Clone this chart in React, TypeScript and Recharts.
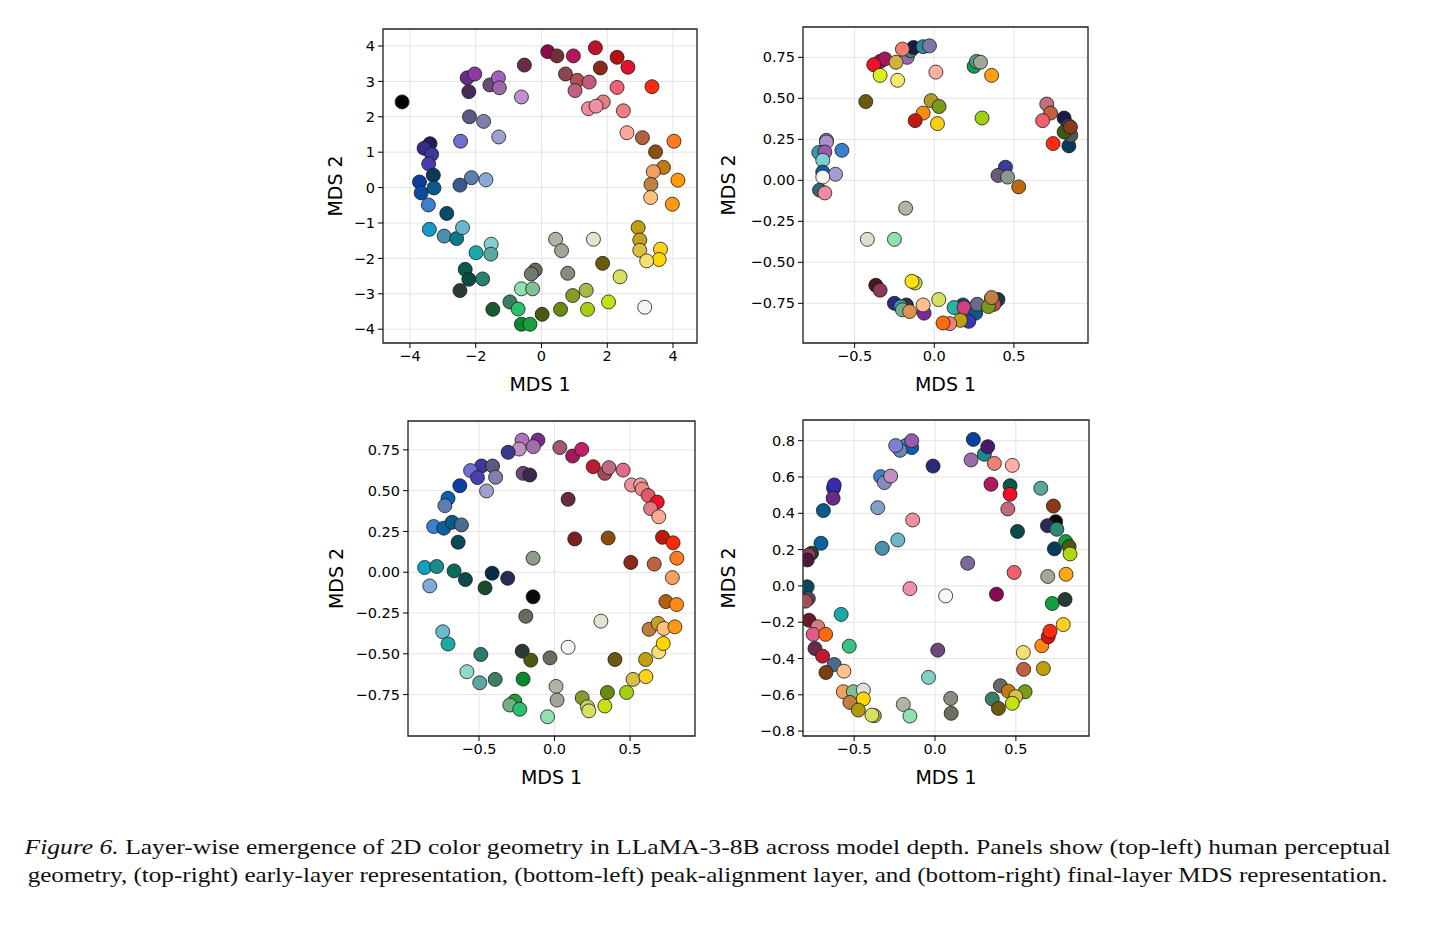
import { CartesianGrid, ReferenceArea, Scatter, ScatterChart, XAxis, YAxis } from "recharts";

type Pt = [number, number, string];

// top-left: human perceptual geometry
const humanPts: Pt[] = [
  [-4.24, 2.42, "#000000"], [0.19, 3.84, "#8b0a50"], [0.47, 3.72, "#722f37"], [0.97, 3.72, "#b5135d"],
  [1.64, 3.95, "#c0102a"], [2.3, 3.68, "#b81010"], [2.63, 3.4, "#e0102f"], [1.79, 3.38, "#8b2a1a"],
  [0.73, 3.21, "#8e4453"], [1.09, 3.03, "#b05050"], [1.45, 2.98, "#c45a7a"], [1.02, 2.74, "#c06080"],
  [2.3, 2.83, "#f06070"], [3.36, 2.85, "#ff2a10"], [1.88, 2.42, "#e08080"], [1.43, 2.23, "#f08aa0"],
  [1.66, 2.3, "#f090a0"], [2.49, 2.17, "#f08080"], [2.6, 1.55, "#ffa898"], [3.07, 1.41, "#b06040"],
  [4.03, 1.31, "#ff7a20"], [3.47, 1.01, "#8b5010"], [3.71, 0.57, "#c07a10"], [3.4, 0.45, "#f0a060"],
  [4.15, 0.21, "#ff9a00"], [3.33, 0.09, "#c08040"], [-0.52, 3.46, "#6a2a4a"], [-0.61, 2.56, "#c090c8"],
  [-2.26, 3.1, "#6a2a8a"], [-2.03, 3.21, "#8a3aa0"], [-2.21, 2.71, "#4a2a5a"], [-1.57, 2.9, "#6a4a7a"],
  [-1.31, 3.1, "#a060c0"], [-1.28, 2.82, "#9a6aa8"], [-2.19, 2.0, "#5a5a8a"], [-1.76, 1.87, "#8080aa"],
  [-2.46, 1.31, "#7070d0"], [-1.3, 1.43, "#a0a0d0"], [-3.39, 1.24, "#2a1a5a"], [-3.57, 1.11, "#3a2a8a"],
  [-3.34, 0.94, "#3a3a9a"], [-3.43, 0.67, "#4a3ab0"], [-3.29, 0.35, "#0a3a5a"], [-3.71, 0.16, "#0a40a0"],
  [-2.48, 0.07, "#3a5a8a"], [-2.13, 0.28, "#5a80b0"], [-1.69, 0.22, "#8aaad8"], [-3.66, -0.15, "#0a4aa0"],
  [-3.27, -0.01, "#0a5a8a"], [-3.44, -0.49, "#3a80d0"], [-2.88, -0.73, "#0a4a6a"], [-3.41, -1.18, "#1a9ac8"],
  [-2.96, -1.37, "#4a90aa"], [-2.58, -1.44, "#0a7a8a"], [-2.4, -1.13, "#6ab8d0"], [-1.99, -1.84, "#1aa8a8"],
  [-1.53, -1.6, "#80d0d0"], [-1.54, -1.88, "#5aa8a0"], [-2.32, -2.31, "#0a5a50"], [-2.21, -2.59, "#0a4a40"],
  [-1.79, -2.58, "#2a8070"], [-2.48, -2.91, "#2a3a30"], [-1.48, -3.44, "#1a5a30"], [-0.96, -3.23, "#3a8060"],
  [-0.71, -3.43, "#2ac070"], [-0.61, -2.86, "#90e0b0"], [-0.27, -2.86, "#80c090"], [-0.61, -3.86, "#0a8a30"],
  [-0.35, -3.86, "#1aa040"], [0.02, -3.58, "#4a5a10"], [-0.19, -2.33, "#6a6a60"], [-0.31, -2.44, "#707a70"],
  [0.58, -3.44, "#6a8a10"], [0.95, -3.05, "#8a9a2a"], [1.36, -2.9, "#a8b84a"], [1.4, -3.44, "#a8d010"],
  [2.04, -3.23, "#c8e010"], [2.39, -2.52, "#d8e060"], [1.86, -2.14, "#6a5a10"], [0.8, -2.42, "#8a8a80"],
  [0.43, -1.46, "#b0b4a8"], [0.61, -1.78, "#a0a49a"], [1.58, -1.46, "#e0e4d0"], [3.14, -3.38, "#f4f4f0"],
  [2.94, -1.13, "#c0a010"], [2.99, -1.48, "#c8a020"], [2.99, -1.77, "#d8c040"], [3.62, -1.74, "#ffd020"],
  [3.58, -2.03, "#ffd800"], [3.2, -2.07, "#f8e070"], [3.32, -0.28, "#ffc080"], [3.98, -0.47, "#ff9a10"],
];

// top-right: early layer
const earlyPts: Pt[] = [
  [-0.34, 0.725, "#c0105a"], [-0.31, 0.74, "#a01a5a"], [-0.38, 0.705, "#f0102a"], [-0.34, 0.64, "#d8f020"],
  [-0.17, 0.75, "#9a6aaa"], [-0.15, 0.79, "#3a8a6a"], [-0.13, 0.81, "#1a1a4a"], [-0.2, 0.8, "#f08070"],
  [-0.24, 0.72, "#d0b040"], [-0.23, 0.61, "#f8e870"], [-0.07, 0.815, "#2a8a9a"], [-0.03, 0.82, "#7a7aaa"],
  [0.01, 0.66, "#ffb0a0"], [-0.43, 0.48, "#6a5a10"], [-0.02, 0.486, "#b09a20"], [0.03, 0.45, "#7a9a1a"],
  [-0.07, 0.41, "#ff8a10"], [-0.12, 0.364, "#c01a10"], [0.02, 0.346, "#f8d010"], [0.25, 0.695, "#10a050"],
  [0.265, 0.725, "#4aa080"], [0.29, 0.72, "#a0a898"], [0.36, 0.64, "#ffa010"], [0.3, 0.38, "#a0d010"],
  [0.706, 0.465, "#c07080"], [0.73, 0.41, "#c06040"], [0.68, 0.364, "#f06070"], [0.815, 0.38, "#1a1a4a"],
  [0.84, 0.335, "#1a4a5a"], [0.845, 0.21, "#0a3a5a"], [0.857, 0.274, "#4a5a5a"], [0.815, 0.295, "#3a5a10"],
  [0.855, 0.325, "#8a3a1a"], [0.746, 0.224, "#ff2a10"], [-0.677, 0.244, "#7a8aaa"], [-0.677, 0.234, "#b090c8"],
  [-0.725, 0.17, "#3a9aaa"], [-0.687, 0.173, "#9a5ab0"], [-0.7, 0.122, "#80d0d0"], [-0.58, 0.183, "#3a80d0"],
  [-0.7, 0.05, "#0a60a0"], [-0.62, 0.037, "#a0a0d0"], [-0.7, 0.02, "#f4f4f0"], [0.447, 0.08, "#3a3a9a"],
  [0.4, 0.03, "#6a5a7a"], [0.46, 0.02, "#8a9a8a"], [0.53, -0.04, "#c06a10"], [-0.72, -0.06, "#2a6a7a"],
  [-0.687, -0.077, "#f08aa0"], [-0.18, -0.17, "#b0b4a8"], [-0.42, -0.36, "#e0e0d0"], [-0.25, -0.36, "#90e0b0"],
  [-0.367, -0.64, "#4a1a1a"], [-0.34, -0.67, "#8a3a5a"], [-0.12, -0.626, "#c0d840"], [-0.14, -0.616, "#ffe010"],
  [-0.25, -0.75, "#2a2a8a"], [-0.175, -0.76, "#3a2a4a"], [-0.21, -0.77, "#2aa0a0"], [-0.2, -0.79, "#70b090"],
  [-0.155, -0.8, "#e09050"], [-0.064, -0.81, "#7a2a9a"], [-0.07, -0.76, "#ffc090"], [0.028, -0.727, "#d8e060"],
  [0.18, -0.76, "#1a4a6a"], [0.124, -0.776, "#2ab0a0"], [0.187, -0.776, "#d04080"], [0.26, -0.81, "#0a5a8a"],
  [0.217, -0.86, "#3a3ab0"], [0.164, -0.854, "#c0a010"], [0.097, -0.874, "#f08080"], [0.055, -0.87, "#ff6a10"],
  [0.27, -0.756, "#6a6a8a"], [0.36, -0.72, "#4a2a4a"], [0.4, -0.727, "#1a3a4a"], [0.375, -0.756, "#c04a4a"],
  [0.34, -0.77, "#7a9a1a"], [0.36, -0.715, "#c08040"],
];

// bottom-left: peak-alignment layer
const peakPts: Pt[] = [
  [-0.215, 0.81, "#b070c0"], [-0.11, 0.81, "#7a2a8a"], [-0.14, 0.77, "#a070a8"], [-0.234, 0.755, "#c090c0"],
  [-0.307, 0.735, "#3a3a8a"], [0.035, 0.764, "#a05a70"], [0.12, 0.712, "#a01a5a"], [0.18, 0.753, "#c0206a"],
  [0.256, 0.647, "#c01a30"], [0.333, 0.606, "#a04a5a"], [0.36, 0.641, "#c06a80"], [0.454, 0.626, "#e06a8a"],
  [0.51, 0.535, "#f090a0"], [0.57, 0.535, "#f0a0a0"], [0.58, 0.51, "#f08888"], [0.62, 0.47, "#e05a6a"],
  [0.68, 0.43, "#f0102a"], [0.636, 0.39, "#e07a80"], [0.69, 0.34, "#ffaa98"], [0.715, 0.214, "#c01a10"],
  [0.785, 0.18, "#ff2a00"], [0.81, 0.086, "#ff7a20"], [0.78, -0.033, "#f8a060"], [0.505, 0.06, "#8a2a1a"],
  [0.66, 0.05, "#c06040"], [0.355, 0.21, "#8a4a10"], [0.134, 0.204, "#7a2020"], [0.09, 0.447, "#6a2a40"],
  [-0.208, 0.606, "#6a4a7a"], [-0.164, 0.596, "#3a2a4a"], [-0.142, 0.086, "#909a8a"], [-0.483, 0.651, "#3a3a9a"],
  [-0.41, 0.651, "#5a5a80"], [-0.556, 0.623, "#7070d0"], [-0.51, 0.58, "#4a40b0"], [-0.39, 0.582, "#8080aa"],
  [-0.45, 0.498, "#a0a0d0"], [-0.627, 0.53, "#0a40a0"], [-0.705, 0.453, "#0a60b0"], [-0.726, 0.408, "#5a80b0"],
  [-0.8, 0.28, "#3a80d0"], [-0.733, 0.27, "#0a60a0"], [-0.678, 0.306, "#0a5a8a"], [-0.616, 0.29, "#4a6a90"],
  [-0.638, 0.184, "#0a4a5a"], [-0.86, 0.029, "#10a0c0"], [-0.78, 0.035, "#1a8a8a"], [-0.665, 0.008, "#0a6a5a"],
  [-0.59, -0.045, "#0a4a4a"], [-0.413, -0.006, "#0a2a4a"], [-0.31, -0.037, "#2a2a5a"], [-0.826, -0.084, "#80a8d8"],
  [-0.46, -0.096, "#1a4a2a"], [-0.142, -0.151, "#0a0a0a"], [-0.19, -0.27, "#6a6a60"], [-0.74, -0.365, "#6ab8d0"],
  [-0.705, -0.44, "#1aa8a8"], [-0.488, -0.504, "#2a7a70"], [-0.58, -0.61, "#90d8c8"], [-0.495, -0.678, "#5aa8a0"],
  [-0.393, -0.657, "#3a8060"], [-0.214, -0.484, "#2a3a30"], [-0.157, -0.539, "#4a5a10"], [-0.03, -0.525, "#6a6a60"],
  [-0.208, -0.655, "#0a8a30"], [-0.263, -0.79, "#1aa040"], [-0.296, -0.814, "#70b080"], [-0.23, -0.84, "#2ac070"],
  [-0.046, -0.886, "#90e0b0"], [0.01, -0.7, "#b0b4a8"], [0.017, -0.784, "#a0a49a"], [0.09, -0.46, "#f4f4f0"],
  [0.307, -0.3, "#e0e4d0"], [0.4, -0.535, "#6a5a10"], [0.183, -0.77, "#8a9a2a"], [0.218, -0.825, "#c8d060"],
  [0.227, -0.85, "#d8e060"], [0.333, -0.82, "#c8e010"], [0.35, -0.737, "#6a8a10"], [0.477, -0.737, "#a8d010"],
  [0.52, -0.657, "#d8c040"], [0.605, -0.64, "#ffd020"], [0.603, -0.535, "#c0a010"], [0.69, -0.488, "#f8e070"],
  [0.72, -0.437, "#ffd800"], [0.626, -0.35, "#c07a40"], [0.686, -0.314, "#c8a020"], [0.724, -0.345, "#ffc080"],
  [0.797, -0.335, "#ff9a10"], [0.737, -0.18, "#b06010"], [0.808, -0.198, "#ff8a10"],
];

// bottom-right: final layer
const finalPts: Pt[] = [
  [0.237, 0.807, "#0a40a0"], [0.305, 0.725, "#1a8a8a"], [0.326, 0.767, "#4a1a6a"], [0.223, 0.694, "#9a6aaa"],
  [0.367, 0.675, "#f08070"], [0.478, 0.664, "#ffb0a0"], [-0.18, 0.773, "#1a9ac8"], [-0.144, 0.762, "#0a60b0"],
  [-0.144, 0.8, "#9a5ab0"], [-0.216, 0.747, "#6a8ab0"], [-0.243, 0.773, "#8080d0"], [-0.012, 0.66, "#2a2a7a"],
  [-0.336, 0.602, "#3a80d0"], [-0.313, 0.569, "#8a8ac0"], [-0.274, 0.605, "#c090c0"], [-0.627, 0.538, "#2a3a9a"],
  [-0.623, 0.556, "#3a2ab0"], [-0.63, 0.483, "#6a2a8a"], [-0.69, 0.415, "#0a5a8a"], [-0.705, 0.235, "#0a60a0"],
  [-0.354, 0.431, "#80a0c8"], [-0.138, 0.363, "#f090a0"], [-0.23, 0.253, "#6ab8c8"], [-0.326, 0.207, "#4a90aa"],
  [-0.763, 0.18, "#1a4a2a"], [-0.78, 0.17, "#8a3a5a"], [-0.79, 0.143, "#4a1a3a"], [0.202, 0.125, "#7a6a9a"],
  [0.346, 0.56, "#b01a5a"], [0.464, 0.552, "#0a5a4a"], [0.464, 0.505, "#f0102a"], [0.45, 0.424, "#c06a80"],
  [0.51, 0.3, "#0a4a4a"], [0.654, 0.538, "#5aa8a0"], [0.732, 0.44, "#8a3a1a"], [0.746, 0.354, "#0a0a0a"],
  [0.695, 0.332, "#2a2a5a"], [0.753, 0.312, "#2a8a7a"], [0.738, 0.204, "#0a3a5a"], [0.808, 0.244, "#10a040"],
  [0.829, 0.217, "#4a5a10"], [0.835, 0.176, "#b0d810"], [0.489, 0.074, "#f06070"], [0.697, 0.052, "#a0a898"],
  [0.81, 0.064, "#ffa810"], [-0.79, -0.005, "#0a4a5a"], [-0.783, -0.07, "#5a4a6a"], [-0.8, -0.084, "#a05050"],
  [-0.155, -0.015, "#f090a8"], [0.066, -0.055, "#f8f8f0"], [0.38, -0.046, "#8a0a50"], [0.725, -0.097, "#10a040"],
  [0.804, -0.075, "#2a3a30"], [-0.58, -0.157, "#1aa8a8"], [-0.779, -0.189, "#6a1a2a"], [-0.725, -0.225, "#e07a80"],
  [-0.753, -0.267, "#e05a8a"], [-0.676, -0.267, "#ff6a10"], [-0.53, -0.332, "#3ac080"], [-0.742, -0.345, "#6a2a4a"],
  [-0.695, -0.387, "#c01a30"], [-0.623, -0.433, "#4a6a90"], [-0.674, -0.477, "#7a4010"], [-0.563, -0.47, "#ffc090"],
  [0.017, -0.354, "#6a4a7a"], [-0.04, -0.504, "#80d0c8"], [0.546, -0.367, "#f8e070"], [0.66, -0.33, "#ff8a10"],
  [0.7, -0.28, "#e01010"], [0.711, -0.25, "#ff2a10"], [0.793, -0.213, "#ffd020"], [0.548, -0.46, "#c06040"],
  [0.67, -0.455, "#c0a010"], [-0.567, -0.583, "#f0a060"], [-0.505, -0.583, "#80c090"], [-0.443, -0.574, "#e0e0d8"],
  [-0.526, -0.642, "#c08040"], [-0.443, -0.623, "#ffd800"], [-0.474, -0.684, "#b09a10"], [-0.375, -0.715, "#a8b84a"],
  [-0.39, -0.712, "#d8e060"], [-0.196, -0.653, "#b0b4a8"], [-0.155, -0.717, "#90e0b0"], [0.097, -0.62, "#8a8a80"],
  [0.1, -0.702, "#6a7060"], [0.354, -0.623, "#3a8060"], [0.404, -0.55, "#6a6a60"], [0.453, -0.58, "#c07a10"],
  [0.557, -0.583, "#7a9a1a"], [0.392, -0.675, "#6a5a10"], [0.499, -0.61, "#d8c040"], [0.478, -0.647, "#c8e010"],
];

const humanXTicks = [-4, -2, 0, 2, 4];
const humanYTicks = [-4, -3, -2, -1, 0, 1, 2, 3, 4];
const halfTicks = [-0.5, 0, 0.5];
const quarterTicks = [-0.75, -0.5, -0.25, 0, 0.25, 0.5, 0.75];
const finalYTicks = [-0.8, -0.6, -0.4, -0.2, 0, 0.2, 0.4, 0.6, 0.8];

const caption1 =
  " Layer-wise emergence of 2D color geometry in LLaMA-3-8B across model depth. Panels show (top-left) human perceptual";
const caption2 =
  "geometry, (top-right) early-layer representation, (bottom-left) peak-alignment layer, and (bottom-right) final-layer MDS representation.";

const minus = (s: string) => s.replace("-", "\u2212");
const fmtInt = (v: number) => minus(String(v));
const fmt1 = (v: number) => minus(v.toFixed(1));
const fmt2 = (v: number) => minus(v.toFixed(2));

const FONT = "'DejaVu Sans', sans-serif";

type PanelProps = {
  pts: Pt[];
  left: number;
  top: number;
  w: number;
  h: number;
  yAxisW: number;
  xDomain: [number, number];
  yDomain: [number, number];
  xTicks: number[];
  yTicks: number[];
  fmtX: (v: number) => string;
  fmtY: (v: number) => string;
};

function Dot(props: any) {
  return (
    <circle cx={props.cx} cy={props.cy} r={7} fill={props.payload.c} stroke="#1a1a1a" strokeWidth={0.8} />
  );
}

function Panel({ pts, left, top, w, h, yAxisW, xDomain, yDomain, xTicks, yTicks, fmtX, fmtY }: PanelProps) {
  const data = pts.map(([x, y, c]) => ({ x, y, c }));
  const xAxisH = 82;
  return (
    <div style={{ position: "absolute", left: left - yAxisW, top: top - 10 }}>
      <ScatterChart
        width={yAxisW + w + 10}
        height={10 + h + xAxisH}
        margin={{ top: 10, right: 10, bottom: 0, left: 0 }}
      >
        <CartesianGrid stroke="#e4e4e4" strokeWidth={1} />
        <XAxis
          type="number"
          dataKey="x"
          domain={xDomain}
          ticks={xTicks}
          allowDataOverflow
          height={xAxisH}
          tickFormatter={fmtX}
          tick={{ fill: "#000", fontSize: 14.5, fontFamily: FONT }}
          tickLine={{ stroke: "#000" }}
          tickSize={5}
          tickMargin={3}
          axisLine={false}
          label={{ value: "MDS 1", position: "center", fill: "#000", fontSize: 19, fontFamily: FONT }}
        />
        <YAxis
          type="number"
          dataKey="y"
          domain={yDomain}
          ticks={yTicks}
          allowDataOverflow
          width={yAxisW}
          tickFormatter={fmtY}
          tick={{ fill: "#000", fontSize: 14.5, fontFamily: FONT }}
          tickLine={{ stroke: "#000" }}
          tickSize={5}
          tickMargin={3}
          axisLine={false}
          label={{ value: "MDS 2", angle: -90, position: "center", fill: "#000", fontSize: 19, fontFamily: FONT }}
        />
        <Scatter data={data} shape={Dot} isAnimationActive={false} />
        <ReferenceArea
          x1={xDomain[0]}
          x2={xDomain[1]}
          y1={yDomain[0]}
          y2={yDomain[1]}
          fill="none"
          stroke="#222"
          strokeWidth={1.3}
          ifOverflow="visible"
        />
      </ScatterChart>
    </div>
  );
}

const captionLine = (scale: number): React.CSSProperties => ({
  transform: `scaleX(${scale})`,
  transformOrigin: "707px 0",
  whiteSpace: "nowrap",
});

export default function App() {
  return (
    <div style={{ position: "absolute", left: 0, top: 0, width: 1456, height: 936, background: "#fff" }}>
      <Panel
        pts={humanPts} left={383} top={29} w={314} h={314} yAxisW={95}
        xDomain={[-4.82, 4.73]} yDomain={[-4.39, 4.48]}
        xTicks={humanXTicks} yTicks={humanYTicks} fmtX={fmtInt} fmtY={fmtInt}
      />
      <Panel
        pts={earlyPts} left={803} top={27} w={285} h={316} yAxisW={150}
        xDomain={[-0.824, 0.965]} yDomain={[-0.992, 0.935]}
        xTicks={halfTicks} yTicks={quarterTicks} fmtX={fmt1} fmtY={fmt2}
      />
      <Panel
        pts={peakPts} left={408} top={421} w={287} h={315} yAxisW={144}
        xDomain={[-0.97, 0.93]} yDomain={[-1.004, 0.927]}
        xTicks={halfTicks} yTicks={quarterTicks} fmtX={fmt1} fmtY={fmt2}
      />
      <Panel
        pts={finalPts} left={803} top={420} w={286} h={316} yAxisW={150}
        xDomain={[-0.816, 0.952]} yDomain={[-0.827, 0.914]}
        xTicks={halfTicks} yTicks={finalYTicks} fmtX={fmt1} fmtY={fmt1}
      />
      <div
        style={{
          position: "absolute",
          left: 0,
          top: 833,
          width: 1415,
          textAlign: "center",
          fontFamily: "'Liberation Serif', 'Times New Roman', serif",
          fontSize: 22,
          lineHeight: "28px",
          color: "#111",
        }}
      >
        <div style={captionLine(1.162)}>
          <i>Figure 6.</i>
          {caption1}
        </div>
        <div style={captionLine(1.142)}>{caption2}</div>
      </div>
    </div>
  );
}
